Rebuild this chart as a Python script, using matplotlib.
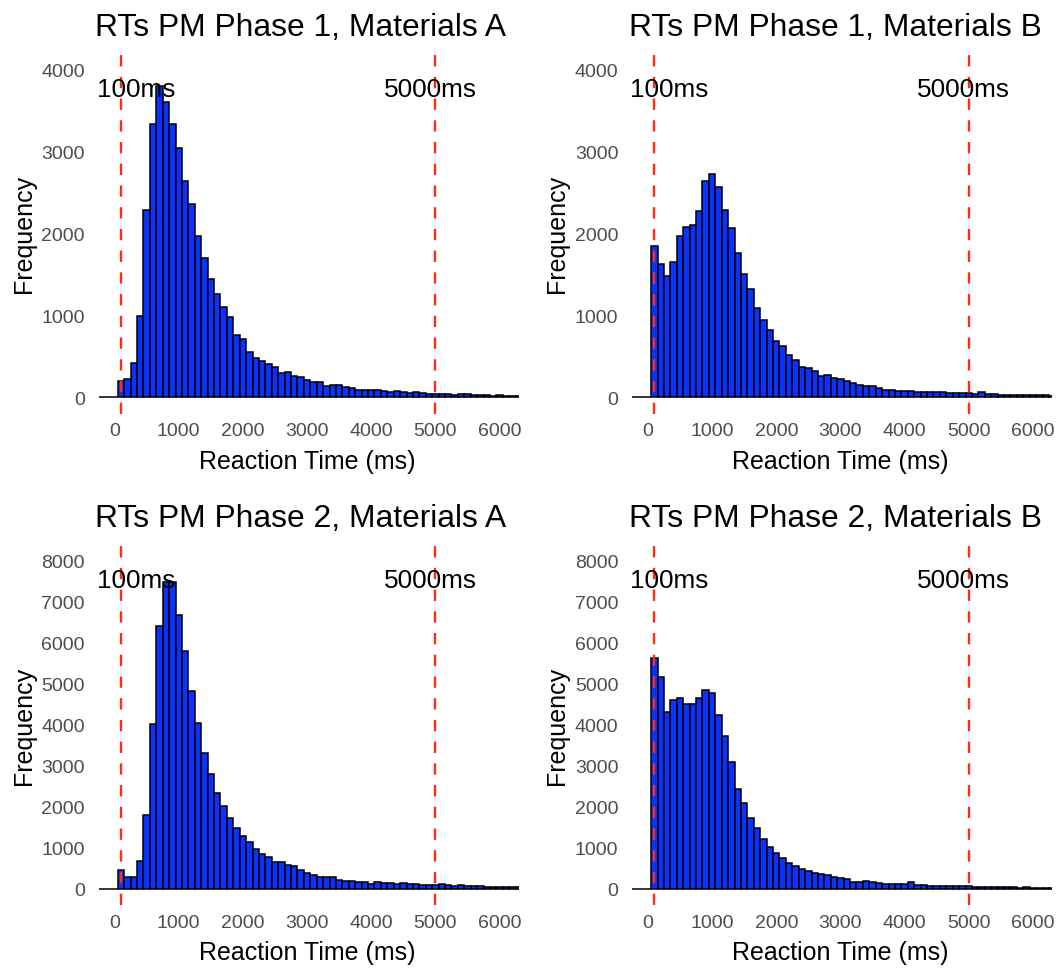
import matplotlib.pyplot as plt
import numpy as np

plt.rcParams['font.family'] = ['Liberation Sans', 'DejaVu Sans']

# 100 ms bins, centred on multiples of 100 (bins at -200..0 are empty)
bin_centers = np.arange(-200, 6400, 100)
empty_bins = [0, 0, 0]

# counts for bins centred at 100, 200, ..., 6300 ms
phase1_a = [200, 225, 420, 990, 2290, 3330, 3800, 3600, 3330, 3040,
            2640, 2360, 1970, 1700, 1440, 1260, 1100, 975, 765, 710,
            550, 475, 440, 405, 365, 300, 305, 260, 250, 210,
            190, 190, 135, 150, 150, 130, 110, 85, 95, 90,
            85, 80, 70, 75, 65, 55, 60, 50, 45, 45,
            40, 40, 30, 35, 35, 25, 30, 25, 20, 25,
            20, 20, 15]
phase1_b = [1850, 1625, 1485, 1655, 1970, 2075, 2100, 2275, 2640, 2725,
            2570, 2290, 2060, 1760, 1505, 1320, 1090, 945, 815, 685,
            630, 510, 455, 365, 355, 325, 260, 275, 235, 228,
            198, 171, 150, 142, 134, 114, 93, 85, 81, 75,
            73, 70, 65, 65, 62, 60, 55, 50, 48, 48,
            45, 60, 42, 38, 30, 32, 30, 28, 30, 25,
            22, 25, 20]
phase2_a = [465, 285, 300, 675, 1790, 4025, 6410, 7465, 7480, 6670,
            5790, 4815, 4040, 3320, 2805, 2340, 2015, 1725, 1480, 1285,
            1140, 975, 840, 770, 665, 650, 585, 550, 450, 400,
            345, 300, 300, 285, 230, 205, 190, 180, 170, 125,
            165, 155, 140, 130, 135, 115, 115, 105, 100, 98,
            115, 98, 82, 90, 80, 65, 60, 58, 55, 55,
            50, 48, 45]
phase2_b = [5625, 5165, 4295, 4610, 4650, 4495, 4495, 4650, 4830, 4770,
            4230, 3725, 3090, 2440, 2090, 1730, 1480, 1220, 1015, 880,
            755, 625, 570, 490, 445, 390, 365, 345, 300, 270,
            236, 180, 163, 187, 171, 146, 114, 114, 122, 120,
            160, 106, 100, 82, 80, 78, 65, 65, 62, 62,
            57, 57, 57, 42, 45, 40, 40, 35, 38, 35,
            32, 30, 30]

titles = ["RTs PM Phase 1, Materials A", "RTs PM Phase 1, Materials B",
          "RTs PM Phase 2, Materials A", "RTs PM Phase 2, Materials B"]
series = [phase1_a, phase1_b, phase2_a, phase2_b]
y_max = [4000, 4000, 8000, 8000]
cutoffs = [100, 5000]
cutoff_labels = ["100ms", "5000ms"]
label_x = [330, 4920]
x_ticks = np.arange(0, 7000, 1000)

fig = plt.figure(figsize=(10.6, 9.7), dpi=100)

W, H = 1060, 970
# panel boxes in pixels: left, top, width, height
boxes = [(95.3, 53.9, 423.5, 360.8), (628.7, 53.9, 423.5, 360.8),
         (95.3, 544.8, 423.5, 361.6), (628.7, 544.8, 423.5, 361.6)]

for i in range(4):
    l, t, w, h = boxes[i]
    ax = fig.add_axes([l / W, 1 - (t + h) / H, w / W, h / H])
    counts = empty_bins + series[i]
    ax.bar(bin_centers, counts, width=100, color='#0a32ff', edgecolor='black',
           linewidth=1.1)
    for c in cutoffs:
        ax.axvline(c, color='#ff2b1c', linestyle=(0, (4.8, 4.4)), linewidth=1.7)
    ym = y_max[i]
    for xl, lab in zip(label_x, cutoff_labels):
        ax.text(xl, ym * 0.92, lab, ha='center', va='baseline', fontsize=18.8)
    ax.set_xlim(-300, 6300)
    ax.set_ylim(-ym * 0.05, ym * 1.05)
    ax.set_xticks(x_ticks)
    ax.set_yticks(np.arange(0, ym + 1, 1000))
    ax.tick_params(length=0, labelsize=14, labelcolor='#4d4d4d')
    ax.tick_params(axis='y', pad=7.5)
    ax.tick_params(axis='x', pad=6)
    for s in ax.spines.values():
        s.set_visible(False)
    ax.set_title(titles[i], loc='left', fontsize=22.9, pad=13)
    ax.set_xlabel("Reaction Time (ms)", fontsize=18, labelpad=7)
    ax.set_ylabel("Frequency", fontsize=18, labelpad=4)

fig.savefig("out.png", dpi=100)
